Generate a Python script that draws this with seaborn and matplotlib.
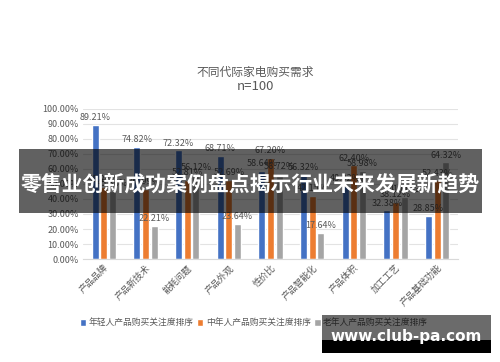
import matplotlib
matplotlib.use("Agg")
import matplotlib.pyplot as plt
import pandas as pd
import seaborn as sns
from matplotlib.patches import Rectangle

sns.set_style("white")
plt.rcParams['font.family'] = ['Noto Sans CJK SC', 'DejaVu Sans']

# data (hidden labels are estimates)
categories = ['产品品牌', '产品新技术', '能耗问题', '产品外观', '性价比',
              '产品智能化', '产品体积', '加工工艺', '产品基础功能']
young = [89.21, 74.82, 72.32, 68.71, 58.64, 56.32, 48.92, 32.38, 28.85]
middle = [48.24, 46.99, 52.81, 52.69, 67.20, 42.15, 62.40, 38.12, 52.43]
old = [45.36, 22.21, 56.12, 23.64, 56.72, 17.64, 58.98, 41.60, 64.32]
series = ['年轻人产品购买关注度排序', '中年人产品购买关注度排序', '老年人产品购买关注度排序']

df = pd.concat([
    pd.DataFrame({'category': categories, 'value': vals, 'series': s})
    for s, vals in zip(series, [young, middle, old])
])

palette = dict(zip(series, ['#4472C4', '#ED7D31', '#A5A5A5']))
txt = '#595959'

fig = plt.figure(figsize=(5, 3.62), dpi=100)
ax = fig.add_axes([0.166, 0.2845, 0.75, 0.4145])

sns.barplot(df, x='category', y='value', hue='series', palette=palette,
            width=0.62, gap=0.18, saturation=1, ax=ax)

for c in ax.containers:
    ax.bar_label(c, fmt='%.2f%%', padding=2, fontsize=6.5, color=txt)

ax.set_ylim(0, 100)
ax.set_yticks(range(0, 101, 10))
ax.set_yticklabels([f'{v:.2f}%' for v in range(0, 101, 10)], fontsize=6.5, color=txt)
ax.yaxis.grid(True, color='#E3E3E3', linewidth=0.8)
ax.set_axisbelow(True)
for s in ['left', 'right', 'top']:
    ax.spines[s].set_visible(False)
ax.spines['bottom'].set_color('#D9D9D9')
ax.tick_params(axis='both', length=0, pad=3)
plt.setp(ax.get_xticklabels(), rotation=45, ha='right', rotation_mode='anchor',
         fontsize=6.5, color=txt)
ax.set_xlabel('')
ax.set_ylabel('')

ax.legend(loc='center', bbox_to_anchor=(0.508, 1 - 323 / 362),
          bbox_transform=fig.transFigure, ncol=3, frameon=False,
          fontsize=6.3, handlelength=0.7, handleheight=0.7,
          handletextpad=0.3, columnspacing=0.4, labelcolor=txt)

fig.text(0.51, 1 - 72 / 362, '不同代际家电购买需求', ha='center', va='center',
         fontsize=8.5, color=txt)
fig.text(0.51, 1 - 86 / 362, 'n=100', ha='center', va='center',
         fontsize=9.5, color=txt)

# overlay banner
fig.add_artist(Rectangle((19 / 500, 1 - 213 / 362), 463 / 500, 64 / 362,
                         transform=fig.transFigure, color='black', alpha=0.62,
                         linewidth=0))
fig.text(0.5, 1 - 184 / 362, '零售业创新成功案例盘点揭示行业未来发展新趋势',
         ha='center', va='center', fontsize=15, color='white', fontweight='bold')

# corner watermark
fig.add_artist(Rectangle((322 / 500, 1 - 340 / 362), 169 / 500, 25 / 362,
                         transform=fig.transFigure, color='black', alpha=0.58,
                         linewidth=0))
fig.add_artist(Rectangle((322 / 500, 1 - 353 / 362), 169 / 500, 13 / 362,
                         transform=fig.transFigure, color='black', linewidth=0))
fig.text(406 / 500, 1 - 337 / 362, 'www.club-pa.com', ha='center', va='center',
         fontsize=11, color='white', fontweight='bold', family='DejaVu Sans')

fig.savefig('out.png', dpi=100)
